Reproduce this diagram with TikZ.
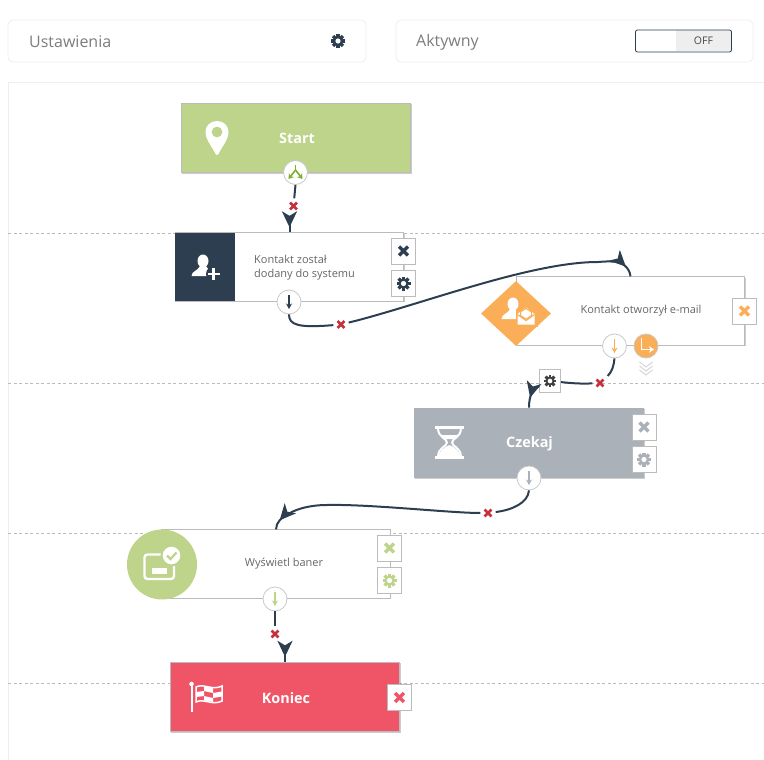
\documentclass[tikz,border=0pt]{standalone}
\usepackage{fontspec}
\setmainfont{Open Sans}
\usetikzlibrary{arrows.meta}
\usetikzlibrary{shapes.geometric}
\usetikzlibrary{shadows}
\usetikzlibrary{decorations.markings}

\definecolor{navy}{HTML}{2D3E50}
\definecolor{leaf}{HTML}{BDD48A}
\definecolor{leafdark}{HTML}{7FAE2E}
\definecolor{amber}{HTML}{FBAE58}
\definecolor{slate}{HTML}{ABB1B8}
\definecolor{rose}{HTML}{EF5566}
\definecolor{crimson}{HTML}{C5303C}
\definecolor{edge}{HTML}{BBBBBB}
\definecolor{pale}{HTML}{EEEEEE}
\definecolor{inktext}{HTML}{666666}

\tikzset{
  panelbox/.style={draw=pale,line width=.8pt,rounded corners=5pt,fill=white,minimum height=42pt,inner sep=0pt},
  paneltext/.style={text=inktext!85,anchor=west,inner sep=0pt,font=\fontsize{16}{18}\selectfont},
  flowbox/.style={rectangle,draw=edge,line width=.8pt,fill=white,minimum width=228.5pt,minimum height=68.5pt,inner sep=0pt,
    drop shadow={shadow xshift=1.2pt,shadow yshift=-1.2pt,opacity=.2,fill=black}},
  titletext/.style={text=white,inner sep=0pt,font=\fontsize{14.4}{16}\selectfont\bfseries},
  steptext/.style={text=inktext,inner sep=0pt,align=left,font=\fontsize{11}{14}\selectfont},
  iconbtn/.style={rectangle,draw=edge,line width=.8pt,fill=white,minimum width=24pt,minimum height=26pt,inner sep=0pt},
  port/.style={circle,draw=edge!80,line width=.8pt,fill=white,minimum size=24pt,inner sep=0pt},
  delmark/.style={rectangle,minimum size=15pt,inner sep=0pt},
  flow/.style={draw=navy,line width=2pt},
  flowhead/.style={postaction={decorate},decoration={markings,
    mark=at position -#1pt with {\arrow[navy]{Stealth[length=16pt,width=15pt,inset=4.5pt]}}}},
  pics/gearicon/.style={code={
    \fill[#1] (0,0) circle (5pt);
    \foreach \a in {0,45,...,315} \fill[#1,rotate=\a] (-1.6,-7) rectangle (1.6,-3.5);
    \fill[white] (0,0) circle (2.6pt);
  }},
  pics/crossicon/.style={code={
    \draw[#1,line width=3.4pt] (-4.4,-4.4) -- (4.4,4.4) (-4.4,4.4) -- (4.4,-4.4);
  }},
  pics/markicon/.style={code={
    \draw[crimson,line width=2.5pt] (-3.4,-3.4) -- (3.4,3.4) (-3.4,3.4) -- (3.4,-3.4);
  }},
  pics/personicon/.style={code={
    \fill[white] (0,-5) ellipse (5.5pt and 6.5pt);
    \fill[white] (-11.5,10) .. controls (-11.5,5) and (-5,5) .. (-3,0) -- (3,0) .. controls (5,5) and (11.5,5) .. (11.5,10) -- cycle;
  }},
  pics/downicon/.style={code={
    \draw[#1,line width=1.4pt,-{Stealth[length=5.5pt,width=6pt]}] (0,-7) -- (0,7);
  }},
}

\begin{document}
\begin{tikzpicture}[x=1pt,y=-1pt]
\useasboundingbox (0,0) rectangle (764,760);

% top bar
\node[panelbox,minimum width=358pt] (settingsbar) at (187,41) {};
\node[panelbox,minimum width=357pt] (activebar) at (574.5,41) {};
\node[paneltext] (settingstext) at (29,42) {Ustawienia};
\node[paneltext] (activetext) at (416,42.5) {Aktywny};
\pic at (338,41) {gearicon=navy};
\fill[pale] (676,30.5) rectangle (731,51.5);
\node[draw=navy,line width=.8pt,rounded corners=2pt,minimum width=96pt,minimum height=22pt,inner sep=0pt] (toggle) at (683.5,41) {};
\node[text=inktext!70!black,inner sep=0pt,font=\fontsize{10.5}{12}\selectfont] (toggletext) at (703.5,41) {OFF};

% canvas
\draw[pale,line width=.8pt] (8,760) -- (8,82) -- (764,82);
\foreach \y in {233,383,533,683}
  \draw[edge,line width=.7pt,dash pattern=on 3pt off 2.5pt] (8,\y) -- (764,\y);

% steps
\node[flowbox,fill=leaf,minimum width=229.5pt,minimum height=69.5pt] (start) at (296,138) {};
\node[titletext] (starttext) at (297,138.5) {Start};
\fill[white,even odd rule] (217,121) .. controls (210,121) and (205.5,126) .. (205.5,132)
  .. controls (205.5,140) and (213,148) .. (215.5,154) .. controls (216.2,155.5) and (217.8,155.5) .. (218.5,154)
  .. controls (221,148) and (228.5,140) .. (228.5,132) .. controls (228.5,126) and (224,121) .. (217,121) -- cycle
  (217,132) circle (5.5pt);

\node[flowbox] (contact) at (289.5,267) {};
\node[fill=navy,anchor=north west,minimum width=60pt,minimum height=68pt,inner sep=0pt] (contacticon) at (175,233) {};
\pic at (203,266) {personicon};
\fill[navy] (213.5,274) circle (7.5pt);
\draw[white,line width=2.6pt] (207.5,274) -- (219.5,274) (213.5,268) -- (213.5,280);
\node[steptext,anchor=west] (contacttext) at (254,268) {Kontakt został\\dodany do systemu};

\node[flowbox] (email) at (630.5,311) {};
\node[diamond,fill=amber,minimum width=70pt,minimum height=65pt,inner sep=0pt] (emailicon) at (516,313.5) {};
\pic at (513,309) {personicon};
\fill[amber] (515.5,309) rectangle (538,326.5);
\fill[white] (517.5,314) -- (526,307.5) -- (534.5,314) -- (534.5,324.5) -- (517.5,324.5) -- cycle;
\draw[amber,line width=1.2pt] (517.5,314.5) -- (526,320.5) -- (534.5,314.5);
\draw[amber,line width=1pt] (520.5,312) -- (526,308.5) -- (531.5,312) -- (531.5,315.5) -- (526,319) -- (520.5,315.5) -- cycle;
\node[steptext] (emailtext) at (641,311) {Kontakt otworzył e-mail};

\node[flowbox,fill=slate,draw=none,minimum width=230pt,minimum height=70pt] (wait) at (529,443) {};
\node[titletext] (waittext) at (529.5,444) {Czekaj};
\draw[white,line width=2.6pt] (435,427.5) -- (464,427.5) (435,457.5) -- (464,457.5);
\draw[white,line width=2pt] (438,428) .. controls (438,438) and (447,438) .. (447,442.5)
  .. controls (447,447) and (438,447) .. (438,457) (461,428) .. controls (461,438) and (452,438) .. (452,442.5)
  .. controls (452,447) and (461,447) .. (461,457);
\fill[white] (438,457) .. controls (440,450) and (445,447) .. (449.5,445) .. controls (454,447) and (459,450) .. (461,457) -- cycle;
\fill[white] (441,435) -- (458,435) -- (453,439) -- (446,439) -- cycle;

\node[flowbox] (banner) at (276,564) {};
\node[circle,fill=leaf,minimum size=70pt,inner sep=0pt] (bannericon) at (162,564.5) {};
\draw[white,line width=2.4pt,rounded corners=3pt] (168,554.5) -- (144.5,554.5) -- (144.5,579) -- (174,579) -- (174,562);
\fill[white] (152,568) rectangle (167,574);
\fill[leaf] (171.5,555.5) circle (11pt);
\fill[white] (171.5,555.5) circle (8.8pt);
\draw[leaf,line width=2.2pt] (167,555.5) -- (170.5,559) -- (176.5,552.5);
\node[steptext] (bannertext) at (284,564) {Wyświetl baner};

\node[flowbox,fill=rose,minimum width=229.5pt,minimum height=69.5pt] (finish) at (285,697) {};
\node[titletext] (finishtext) at (286,698) {Koniec};
\draw[white,line width=2pt] (191.8,684) -- (191.8,711.5);
\fill[white] (191.5,684) circle (2.3pt);
\draw[white,line width=1.5pt] (196,687) .. controls (204,683) and (212,691) .. (222,686) -- (222,701) .. controls (212,706) and (204,698) .. (196,702) -- cycle;
\fill[white] (196,692) -- (204,691) -- (204,696) -- (196,697) -- cycle
  (204,686.5) -- (213,688) -- (213,693) -- (204,691) -- cycle
  (213,693) -- (222,691.5) -- (222,696.5) -- (213,698) -- cycle
  (204,696) -- (213,698) -- (213,702) -- (204,700.5) -- cycle;

% side buttons
\node[iconbtn] (contactdel) at (403.5,251) {};
\pic at (contactdel) {crossicon=navy};
\node[iconbtn] (contactopt) at (403.5,283.5) {};
\pic at (contactopt) {gearicon=navy};
\node[iconbtn] (emaildel) at (744.5,311) {};
\pic at (emaildel) {crossicon=amber};
\node[iconbtn] (waitdel) at (644,427) {};
\pic at (waitdel) {crossicon=slate};
\node[iconbtn] (waitopt) at (644,459.5) {};
\pic at (waitopt) {gearicon=slate};
\node[iconbtn] (bannerdel) at (389.5,548) {};
\pic at (bannerdel) {crossicon=leaf};
\node[iconbtn] (banneropt) at (389.5,580.5) {};
\pic at (banneropt) {gearicon=leaf};
\node[iconbtn] (finishdel) at (399.5,697.5) {};
\pic at (finishdel) {crossicon=rose};

% ports
\node[port] (startport) at (295.5,172.5) {};
\draw[leafdark,line width=1.6pt] (295.5,165) -- (295.5,171);
\draw[leafdark,line width=1.6pt,-{Stealth[length=5pt,width=6.5pt]}] (295.5,170) -- (288.5,179);
\draw[leafdark,line width=1.6pt,-{Stealth[length=5pt,width=6.5pt]}] (295.5,170) -- (302.5,179);
\node[port] (contactport) at (289,302) {};
\pic at (contactport) {downicon=navy};
\node[port] (emailport) at (614.5,346) {};
\pic at (emailport) {downicon=amber};
\node[port,fill=amber] (emailbranch) at (646,346) {};
\draw[white,line width=1.8pt,-{Stealth[length=5pt,width=6.5pt]}] (641.5,338) -- (641.5,349.5) -- (654,349.5);
\foreach \y in {362,366,370}
  \draw[pale!90!black,line width=1pt] (639.5,\y) -- (646,\y+5) -- (652.5,\y);
\node[port] (waitport) at (529,478) {};
\pic at (waitport) {downicon=slate};
\node[port] (bannerport) at (275,599) {};
\pic at (bannerport) {downicon=leaf};

% links
\node[delmark] (startx) at (293.5,206) {};
\pic at (startx) {markicon};
\node[delmark] (contactx) at (341,324.5) {};
\pic at (contactx) {markicon};
\node[delmark] (emailx) at (600,383) {};
\pic at (emailx) {markicon};
\node[delmark] (waitx) at (488,513) {};
\pic at (waitx) {markicon};
\node[delmark] (bannerx) at (275,634) {};
\pic at (bannerx) {markicon};
\node[iconbtn,draw=pale!80!black,line width=1pt,minimum width=21pt,minimum height=23pt] (emailopt) at (550,381) {};
\pic[scale=.9] at (emailopt) {gearicon={black!75}};

\coordinate (starthead) at (289.5,217);
\coordinate (finishhead) at (285,646);

\draw[flow] (startport.south) -- (startx);
\draw[flow,flowhead=5] (starthead) -- (contact.north);
\draw[flow] (contactport.south) .. controls (289,325) and (298,328) .. (contactx);
\draw[flow,flowhead=11] (contactx) .. controls (420,305) and (530,262) .. (598,262)
  .. controls (610,261) and (619,261) .. (624,265) .. controls (628,268) and (630,272) .. (email.north);
\draw[flow] (emailport.south) .. controls (614,365) and (612,372) .. (emailx);
\draw[flow] (emailx) .. controls (580,384) and (570,383) .. (emailopt);
\draw[flow,flowhead=10] (emailopt) .. controls (533,389) and (529,395) .. (wait.north);
\draw[flow] (waitport.south) .. controls (528,503) and (512,510) .. (waitx);
\draw[flow,flowhead=10] (waitx) .. controls (450,513) and (370,504) .. (327,505)
  .. controls (310,505) and (297,509) .. (290,513) .. controls (282,517) and (276,522) .. (banner.north);
\draw[flow] (bannerport.south) -- (bannerx);
\draw[flow,flowhead=5] (finishhead) -- (finish.north);

\end{tikzpicture}
\end{document}
